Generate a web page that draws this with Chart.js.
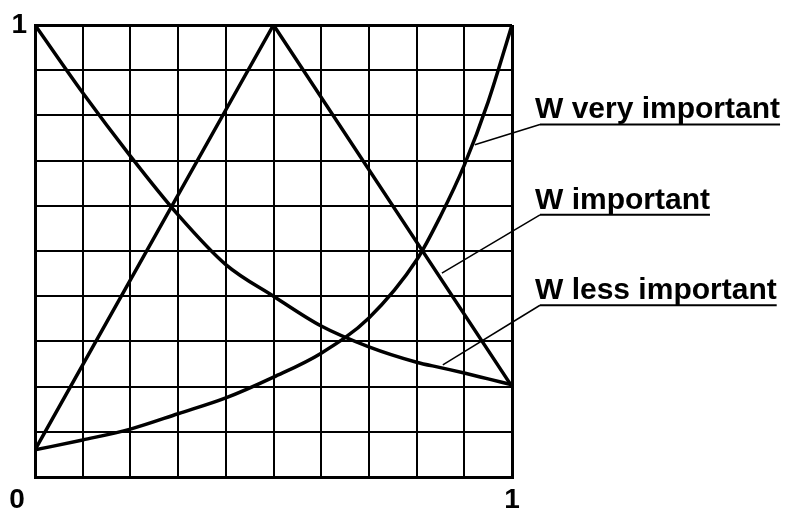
<!DOCTYPE html>
<html>
<head>
<meta charset="utf-8">
<script src="https://cdn.jsdelivr.net/npm/chart.js@4.4.1/dist/chart.umd.min.js"></script>
<style>
  body { margin: 0; background: #fff; }
  #wrap { width: 790px; height: 513px; }
</style>
</head>
<body>
<div id="wrap"><canvas id="weights" width="790" height="513"></canvas></div>
<script>
// values (both axes run 0..1)
const xPoints = [0, 0.1, 0.2, 0.3, 0.4, 0.5, 0.6, 0.7, 0.8, 0.85, 0.9, 0.95, 1];
const wVeryImportant = [0.06, 0.082, 0.106, 0.14, 0.175, 0.221, 0.274, 0.352, 0.48, 0.577, 0.69, 0.83, 1];
const wLessImportant = [1, 0.85, 0.71, 0.58, 0.47, 0.4, 0.334, 0.288, 0.254, 0.242, 0.23, 0.217, 0.204];
const xTriangle = [0, 0.5, 1];
const wImportant = [0.06, 1, 0.2];

const tickLabels = ["0", "1"];
const labelTexts = ["W very important", "W important", "W less important"];
const labelY = [0.78, 0.58, 0.38];     // underline height of each label
const leaderX = [0.922, 0.853, 0.855]; // where each pointer touches its line
const leaderY = [0.735, 0.451, 0.248];

const FONT = "'Liberation Sans', Arial, sans-serif";

function pairs(xs, ys) {
  return xs.map((x, i) => ({ x: x, y: ys[i] }));
}

function edgeWidth(context) {
  const v = context.tick ? context.tick.value : null;
  return v === 0 || v === 1 ? 3 : 2;
}

function onlyOne(value) {
  return value === 1 ? tickLabels[1] : "";
}

// labels with underline + pointer, and the "0" at the origin
const labelsPlugin = {
  id: "labels",
  afterDraw(chart) {
    const ctx = chart.ctx;
    const xs = chart.scales.x;
    const ys = chart.scales.y;
    const area = chart.chartArea;
    ctx.save();
    ctx.fillStyle = "#000";
    ctx.strokeStyle = "#000";
    ctx.font = "bold 30px " + FONT;
    ctx.textAlign = "left";
    ctx.textBaseline = "alphabetic";
    labelTexts.forEach((t, i) => {
      const tx = area.right + 23;
      const uy = ys.getPixelForValue(labelY[i]);
      ctx.fillText(t, tx, uy - 6);
      const w = ctx.measureText(t).width;
      ctx.lineWidth = 2;
      ctx.beginPath();
      ctx.moveTo(tx + 5, uy);
      ctx.lineTo(tx + w, uy);
      ctx.stroke();
      ctx.lineWidth = 1.5;
      ctx.beginPath();
      ctx.moveTo(tx + 5, uy);
      ctx.lineTo(xs.getPixelForValue(leaderX[i]), ys.getPixelForValue(leaderY[i]));
      ctx.stroke();
    });
    ctx.font = "bold 28px " + FONT;
    ctx.textAlign = "center";
    ctx.textBaseline = "middle";
    ctx.fillText(tickLabels[0], xs.getPixelForValue(0) - 18, area.bottom + 23);
    ctx.restore();
  },
};

const ctx = document.getElementById("weights").getContext("2d");
const chart = new Chart(ctx, {
  type: "line",
  data: {
    datasets: [
      {
        label: labelTexts[0],
        data: pairs(xPoints, wVeryImportant),
        cubicInterpolationMode: "monotone",
      },
      {
        label: labelTexts[1],
        data: pairs(xTriangle, wImportant),
        tension: 0,
      },
      {
        label: labelTexts[2],
        data: pairs(xPoints, wLessImportant),
        cubicInterpolationMode: "monotone",
      },
    ],
  },
  options: {
    responsive: false,
    animation: false,
    layout: { padding: { top: 25, right: 278, left: 0, bottom: 0 } },
    elements: {
      point: { radius: 0 },
      line: { borderColor: "#000", borderWidth: 3.5, borderCapStyle: "round", borderJoinStyle: "round" },
    },
    plugins: {
      legend: { display: false },
      tooltip: { enabled: false },
    },
    scales: {
      x: {
        type: "linear",
        min: 0,
        max: 1,
        ticks: {
          stepSize: 0.1,
          autoSkip: false,
          maxRotation: 0,
          padding: 6,
          color: "#000",
          font: { family: FONT, size: 28, weight: "bold" },
          callback: onlyOne,
        },
        grid: { color: "#000", lineWidth: edgeWidth, drawTicks: false },
        border: { color: "#000", width: 3 },
        afterFit(scale) {
          scale.height = 36;
        },
      },
      y: {
        type: "linear",
        min: 0,
        max: 1,
        ticks: {
          stepSize: 0.1,
          autoSkip: false,
          padding: 8,
          color: "#000",
          font: { family: FONT, size: 28, weight: "bold" },
          callback: onlyOne,
        },
        grid: { color: "#000", lineWidth: edgeWidth, drawTicks: false },
        border: { color: "#000", width: 3 },
        afterFit(scale) {
          scale.width = 35;
        },
      },
    },
  },
  plugins: [labelsPlugin],
});
</script>
</body>
</html>
